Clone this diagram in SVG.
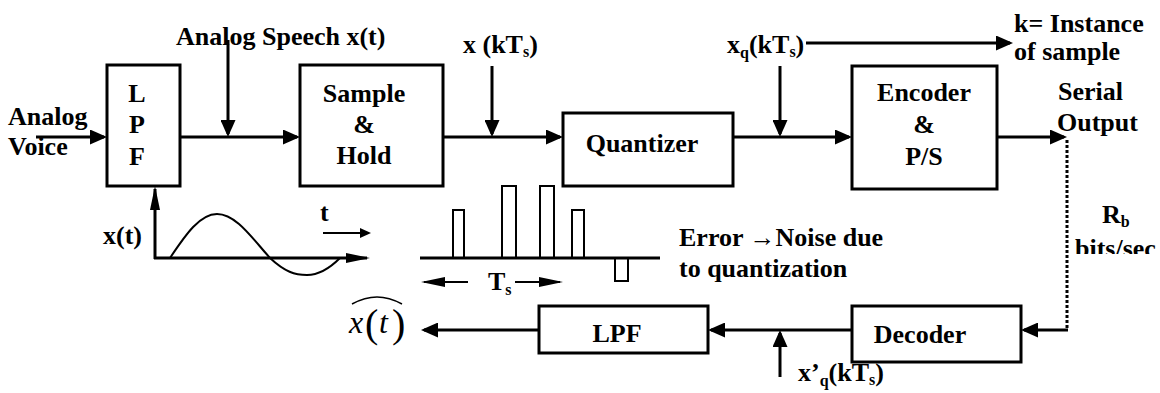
<svg xmlns="http://www.w3.org/2000/svg" width="1160" height="393" viewBox="0 0 1160 393">
<style>
text{font-family:"Liberation Serif","Times New Roman",serif;font-weight:bold;font-size:26px;fill:#000}
.m{text-anchor:middle}
.sub{font-size:16px}
.box{fill:#fff;stroke:#000;stroke-width:3}
.c{fill:none;stroke:#000;stroke-width:3}
.w{fill:none;stroke:#000;stroke-width:2}
.it{font-weight:normal;font-style:italic;font-size:32px}
.par{font-weight:normal;font-size:40px}
</style>
<defs>
<marker id="ah" markerUnits="userSpaceOnUse" markerWidth="17" markerHeight="15" refX="14" refY="7.5" orient="auto"><path d="M0,0 L17,7.5 L0,15 Z" fill="#000"/></marker>
<marker id="th" markerUnits="userSpaceOnUse" markerWidth="24" markerHeight="10" refX="21" refY="5" orient="auto"><path d="M0,0 L24,5 L0,10 Z" fill="#000"/></marker>
<marker id="sm" markerUnits="userSpaceOnUse" markerWidth="11" markerHeight="10" refX="9" refY="5" orient="auto"><path d="M0,0 L11,5 L0,10 Z" fill="#000"/></marker>
<clipPath id="clipb"><rect x="1060" y="220" width="100" height="34"/></clipPath>
</defs>

<g id="connectors">
<path class="c" d="M36,137 H104" marker-end="url(#ah)"/>
<path class="c" d="M180,137 H297" marker-end="url(#ah)"/>
<path class="c" d="M228,40 V134" marker-end="url(#ah)"/>
<path class="c" d="M443,137 H560" marker-end="url(#ah)"/>
<path class="c" d="M492,66 V134" marker-end="url(#ah)"/>
<path class="c" d="M733,137 H849" marker-end="url(#ah)"/>
<path class="c" d="M780,66 V134" marker-end="url(#ah)"/>
<path class="c" d="M806,43 H1010" marker-end="url(#ah)"/>
<path class="c" d="M997,137 H1064" marker-end="url(#ah)"/>
<path class="c" d="M1067,140 V330" stroke-dasharray="3,2"/>
<path class="c" d="M1068,330 H1024" marker-end="url(#ah)"/>
<path class="c" d="M852,330 H711" marker-end="url(#ah)"/>
<path class="c" d="M780,377 V333" marker-end="url(#ah)"/>
<path class="c" d="M539,330 H424" marker-end="url(#ah)"/>
<path class="c" d="M155,259 V189" marker-end="url(#th)"/>
<path class="c" d="M154,258 H367" marker-end="url(#th)"/>
<path class="w" d="M323,233 H369" marker-end="url(#sm)"/>
<path class="w" d="M468,282 H424" marker-end="url(#th)"/>
<path class="w" d="M515,282 H560" marker-end="url(#th)"/>
</g>

<g id="lpf1">
<rect class="box" x="107" y="65" width="73" height="121"/>
<text class="m" x="137" y="102">L</text>
<text class="m" x="137" y="133">P</text>
<text class="m" x="137" y="165">F</text>
</g>
<g id="samplehold">
<rect class="box" x="300" y="65" width="143" height="121"/>
<text class="m" x="364" y="102">Sample</text>
<text class="m" x="364" y="133">&amp;</text>
<text class="m" x="364" y="164">Hold</text>
</g>
<g id="quantizer">
<rect class="box" x="563" y="113" width="170" height="73"/>
<text class="m" x="642" y="152">Quantizer</text>
</g>
<g id="encoder">
<rect class="box" x="852" y="66" width="145" height="123"/>
<text class="m" x="924" y="101">Encoder</text>
<text class="m" x="924" y="133">&amp;</text>
<text class="m" x="924" y="165">P/S</text>
</g>
<g id="decoder">
<rect class="box" x="852" y="306" width="169" height="56"/>
<text class="m" x="920" y="343">Decoder</text>
</g>
<g id="lpf2">
<rect class="box" x="539" y="306" width="169" height="47"/>
<text class="m" x="617" y="342">LPF</text>
</g>

<g id="labels">
<text x="8" y="125">Analog</text>
<text x="8" y="155">Voice</text>
<text x="176" y="45">Analog Speech x(t)</text>
<text x="463" y="53">x (kT<tspan class="sub" dy="4">s</tspan><tspan dy="-4">)</tspan></text>
<text x="727" y="53">x<tspan class="sub" dy="5">q</tspan><tspan dy="-5">(kT</tspan><tspan class="sub" dy="4">s</tspan><tspan dy="-4">)</tspan></text>
<text x="1014" y="32">k= Instance</text>
<text x="1014" y="60">of  sample</text>
<text x="1058" y="100">Serial</text>
<text x="1057" y="131">Output</text>
<text x="1102" y="223">R<tspan class="sub" dy="4">b</tspan></text>
<text x="1075" y="257" clip-path="url(#clipb)">bits/sec</text>
<text x="103" y="244">x(t)</text>
<text x="320" y="221">t</text>
<text x="488" y="290">T<tspan class="sub" dy="5">s</tspan></text>
<text x="679" y="246">Error  →Noise due</text>
<text x="679" y="277">to quantization</text>
<text x="798" y="381">x’<tspan class="sub" dy="5">q</tspan><tspan dy="-5">(kT</tspan><tspan class="sub" dy="4">s</tspan><tspan dy="-4">)</tspan></text>
</g>

<g id="xhat">
<text class="it" x="349" y="333">x</text>
<text class="par" x="365" y="337">(</text>
<text class="it" x="379" y="333">t</text>
<text class="par" x="392" y="337">)</text>
<path d="M352,304 Q365,297 377,297 Q389,297 402,304" fill="none" stroke="#000" stroke-width="1.5"/>
</g>

<g id="waveforms">
<path class="w" d="M170,258 C186,234 200,214 217,214 C236,214 252,238 270,258 C285,272 295,275 307,275 C320,275 330,268 340,258"/>
<path class="c" d="M420,258 H660"/>
<path class="w" d="M453,258 V210 H464 V258"/>
<path class="w" d="M502,258 V186 H516 V258"/>
<path class="w" d="M540,258 V186 H554 V258"/>
<path class="w" d="M572,258 V210 H584 V258"/>
<path class="w" d="M615,258 V281 H628 V258"/>
</g>
</svg>
